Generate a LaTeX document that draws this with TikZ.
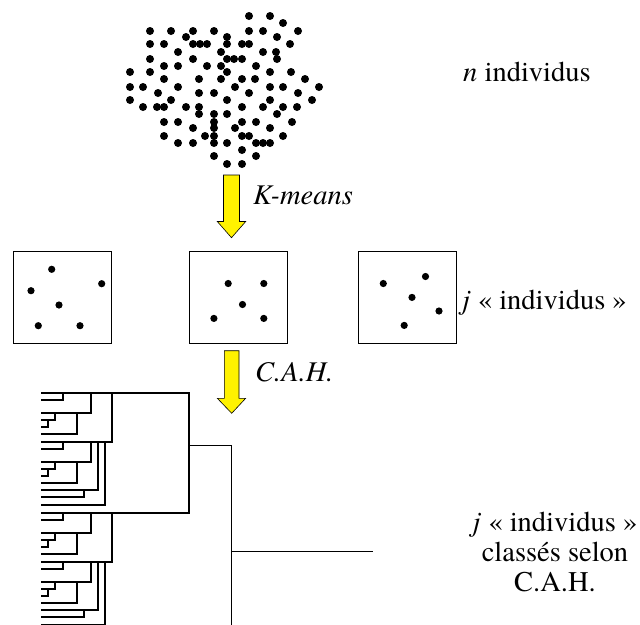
\documentclass[tikz,border=0pt]{standalone}
\usepackage{fontspec}
\setmainfont{texgyretermes}[Extension=.otf, UprightFont=*-regular, ItalicFont=*-italic, BoldFont=*-bold, BoldItalicFont=*-bolditalic]
\usetikzlibrary{positioning}

\begin{document}
\begin{tikzpicture}[x=1pt,y=-1pt,
    lbl/.style={font=\fontsize{28.5}{30}\selectfont, inner sep=0pt},
    boite/.style={draw, line width=1pt, minimum width=98.4pt, minimum height=91.6pt, inner sep=0pt},
    fleche/.style={fill=yellow, draw=black, line width=0.6pt},
    dendro/.style={line width=2pt},
    lien/.style={line width=1.2pt}]
    \clip (0,0) rectangle (640,624);

    % 个体点云
    \foreach \p in {(249,16),(270,16),(283,23),
        (150,31),(171,31),(193,31),(214,31),(249,31),(263,31),(298,31),
        (186,37),(227,37),(277,37),
        (150,44),(164,44),(193,44),(200,44),(207,44),(227,44),(242,44),(249,44),(290,44),
        (178,52),(221,52),(263,52),(276,52),
        (150,59),(193,59),(227,59),(234,59),(242,59),(277,59),
        (164,66),(178,66),(207,66),(221,66),(256,66),
        (130,72),(150,72),(227,72),(270,72),(291,72),
        (164,79),(199,79),(221,79),(242,79),(255,79),(305,79),
        (130,87),(143,87),(178,87),(235,87),(270,87),(283,87),(319,87),
        (158,93),(199,93),(214,93),(249,93),(298,93),
        (130,100),(171,100),(227,100),(270,100),(312,100),
        (143,107),(157,107),(164,107),(186,107),(199,107),(242,107),(263,107),(283,107),(297,107),
        (199,114),(214,114),(227,114),(277,114),
        (164,122),(178,122),(214,122),(242,122),(256,122),(292,122),
        (193,128),(214,128),(235,128),(270,128),
        (164,136),(205,136),(214,136),(242,136),(249,136),(283,136),
        (178,143),(193,143),(214,143),(227,143),(256,143),(263,143),(270,143),
        (242,150),(214,156),(256,156),(227,164),(242,164)}
        \fill \p circle (4pt);
    \node[lbl, anchor=base west] (nind) at (463,81) {\textit{n} individus};

    % K-means 箭头
    \filldraw[fleche] (223.5,175) -- (239.5,175) -- (239.5,221.5) -- (245.7,221.5)
        -- (231.5,237.7) -- (217.3,221.5) -- (223.5,221.5) -- cycle;
    \node[lbl, anchor=base west] (km) at (253,204) {\textit{K-means}};

    % 三个子集
    \node[boite] (g1) at (62.5,297.5) {};
    \node[boite] (g2) at (238.5,297.5) {};
    \node[boite] (g3) at (407.7,297.5) {};
    \foreach \p in {(51.7,269.3),(31,290.7),(101.7,283.7),(59,305),(38.3,325.7),(80,325.7),
        (228.2,283.5),(263.8,283.5),(242.5,304.5),(213.9,318.4),(263.8,318.4),
        (383.3,283.5),(425.5,276.5),(412,297.4),(439,311),(404.2,325.4)}
        \fill \p circle (3.6pt);
    \node[lbl, anchor=base west] (jind) at (462,309) {\textit{j} «~individus~»};

    % C.A.H. 箭头
    \filldraw[fleche] (224.3,350.7) -- (239,350.7) -- (239,398.3) -- (245.7,398.3)
        -- (231.7,413.3) -- (217.3,398.3) -- (224.3,398.3) -- cycle;
    \node[lbl, anchor=base west] (cah) at (255,381.7) {\textit{C.A.H.}};

    % 树状图
    \foreach \t in {392.7,512.7} {
        \foreach \g in {0,49} {
            \draw[dendro] (41,\t+\g+7) -| (63.3,\t+\g);
            \draw[dendro] (41,\t+\g+20.5) -| (91,\t+\g);
            \draw[dendro] (41,\t+\g+27.5) -| (55,\t+\g+20.5);
            \draw[dendro] (41,\t+\g+34.5) -| (48.3,\t+\g+27.5);
            \draw[dendro] (41,\t+\g+41.5) -| (76.7,\t+\g+20.5);
        }
        \draw[dendro] (41,\t+97.3) -| (98.3,\t+49);
        \draw[dendro] (41,\t+104.6) -| (84,\t+97.3);
        \draw[dendro] (41,\t+112.3) -| (105,\t+49);
        \draw[dendro] (41,\t+49) -| (112.3,\t);
    }
    \draw[dendro] (41,392.7) -| (189.3,512.7) -- (41,512.7);
    \draw[lien] (189.3,445.7) -| (231.7,630);
    \draw[lien] (231.7,551.7) -- (372.7,551.7);
    \node[lbl, align=center] (res) at (555,552) {\textit{j} «~individus~»\\classés selon\\C.A.H.};
\end{tikzpicture}
\end{document}
